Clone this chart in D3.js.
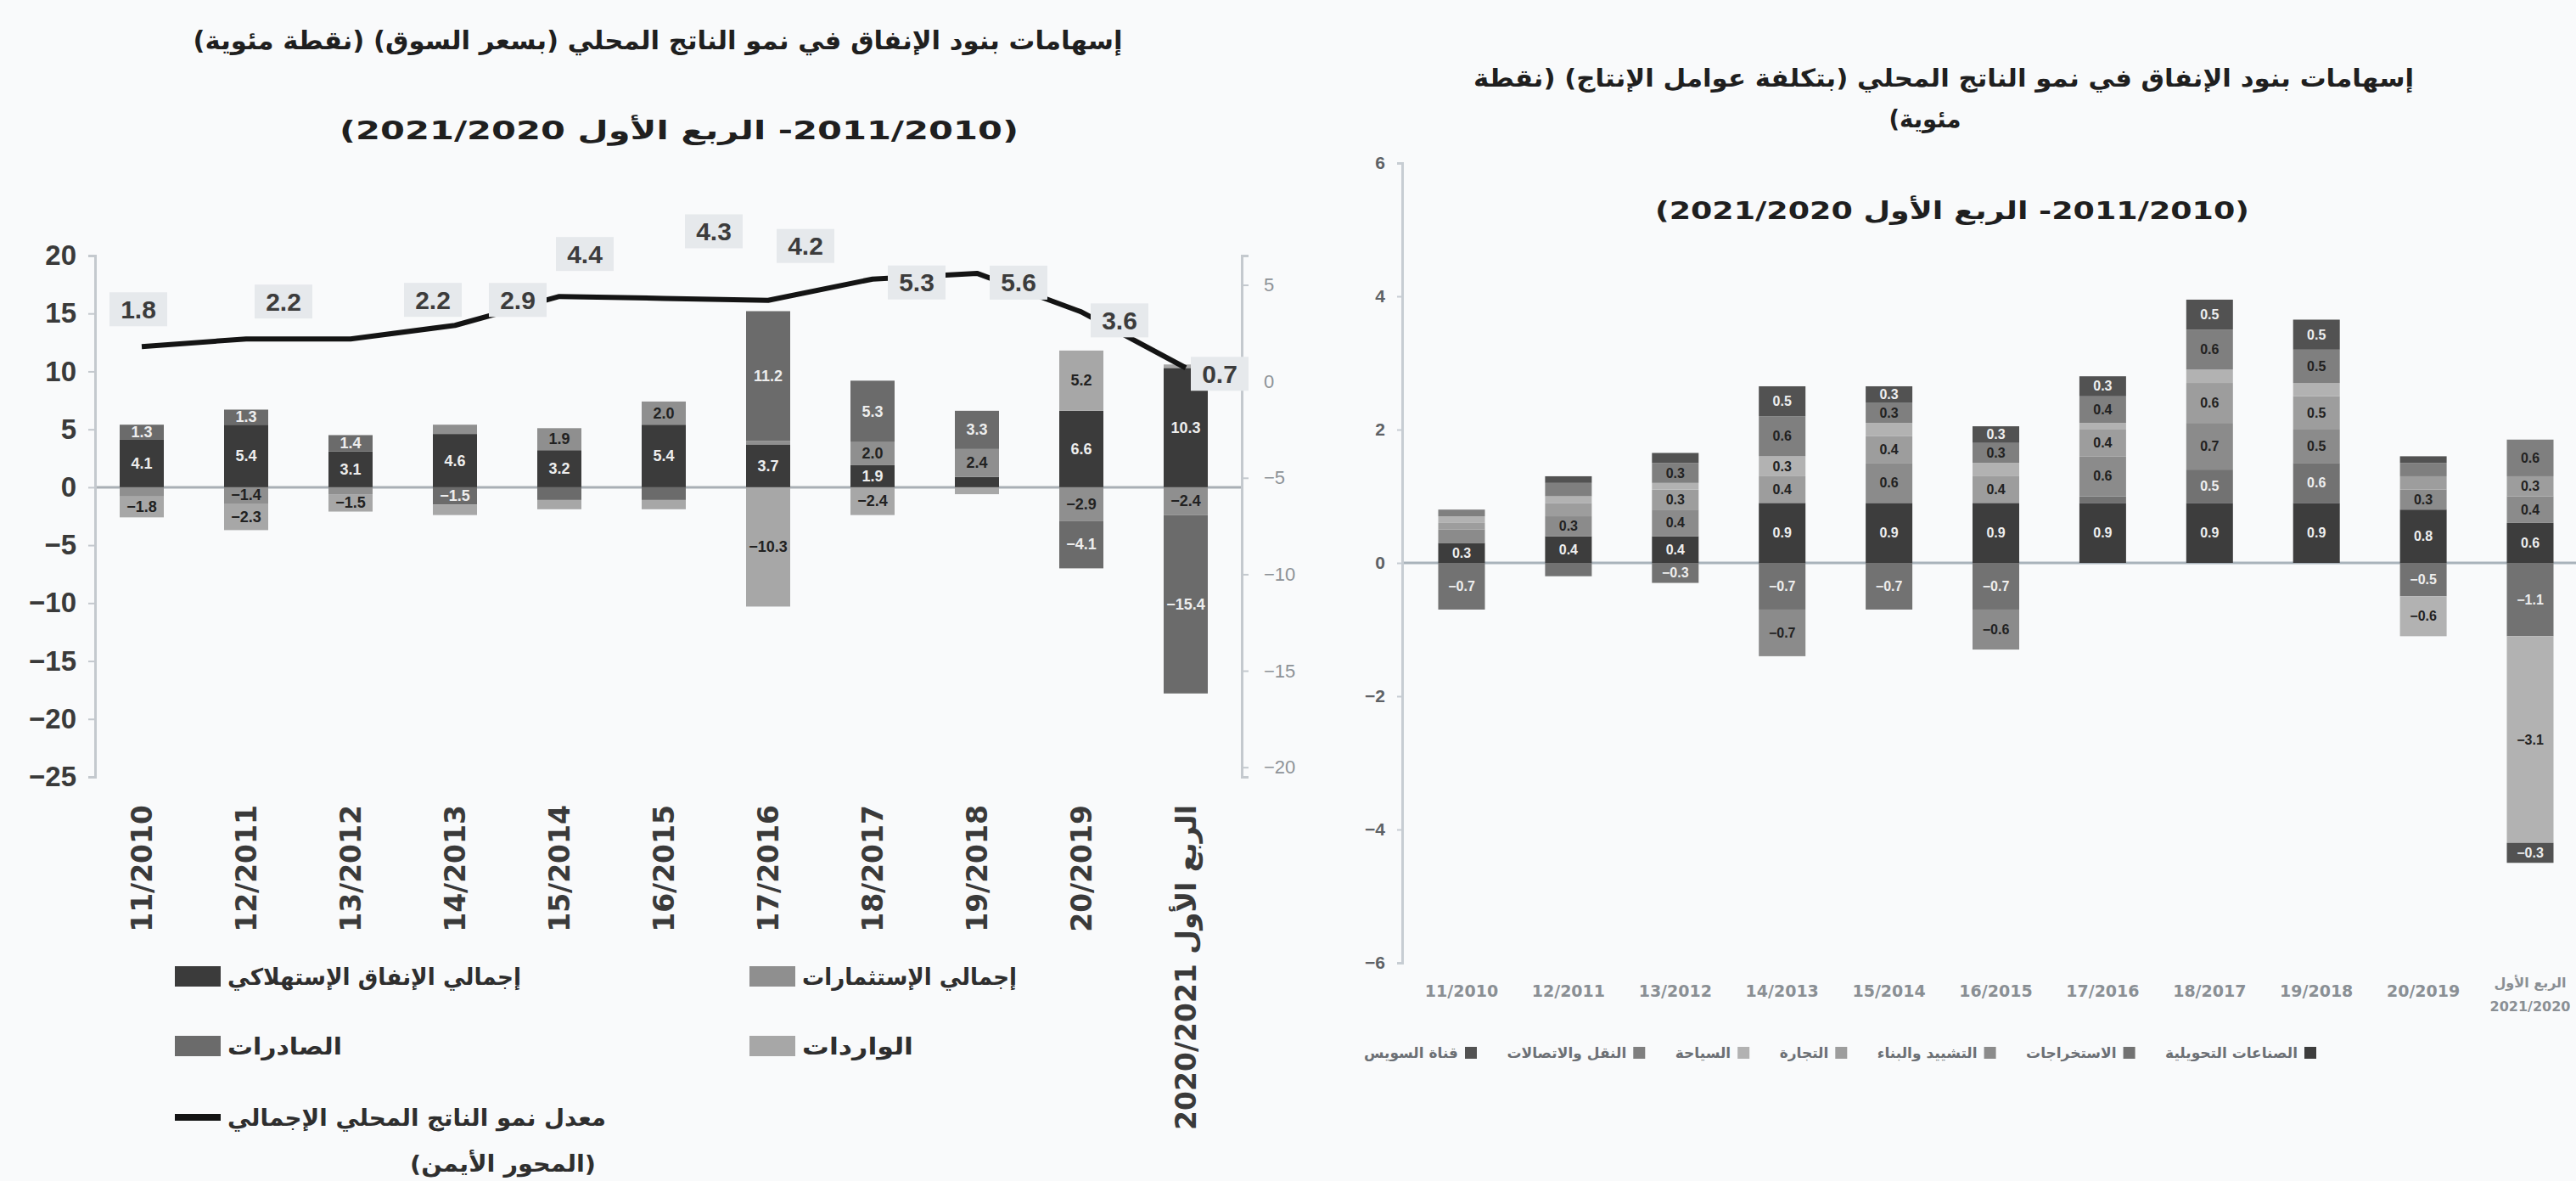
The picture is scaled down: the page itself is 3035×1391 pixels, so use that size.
<!DOCTYPE html>
<html>
<head>
<meta charset="utf-8">
<script src="https://cdn.jsdelivr.net/npm/d3@7"></script>
<style>
  html, body { margin: 0; padding: 0; background: #f9fafb; }
  svg { display: block; }
</style>
</head>
<body>
<svg id="chart" width="3035" height="1391"></svg>
<script>
// ---------- Left panel: expenditure contributions to GDP growth (market prices) ----------
const yearsL = ["11/2010", "12/2011", "13/2012", "14/2013", "15/2014", "16/2015",
                "17/2016", "18/2017", "19/2018", "20/2019", "2020/2021 الربع الأول"];
const consumption = [4.1, 5.4, 3.1, 4.6, 3.2, 5.4, 3.7, 1.9, 0.9, 6.6, 10.3];
const investment  = [-0.8, -1.4, -0.6, 0.8, 1.9, 2.0, 0.3, 2.0, 2.4, -2.9, -2.4];
const exportsC    = [1.3, 1.3, 1.4, -1.5, -1.1, -1.1, 11.2, 5.3, 3.3, -4.1, -15.4];
const importsC    = [-1.8, -2.3, -1.5, -0.9, -0.8, -0.8, -10.3, -2.4, -0.6, 5.2, 0.3];
const gdpGrowth   = [1.8, 2.2, 2.2, 2.9, 4.4, 4.3, 4.2, 5.3, 5.6, 3.6, 0.7];
const leftTicks   = [20, 15, 10, 5, 0, -5, -10, -15, -20, -25];
const growthTicks = [5, 0, -5, -10, -15, -20];
const seriesNamesL = ["إجمالي الإنفاق الإستهلاكي", "إجمالي الإستثمارات", "الصادرات", "الواردات"];
const growthName = ["معدل نمو الناتج المحلي الإجمالي", "(المحور الأيمن)"];

// ---------- Right panel: sector contributions (factor cost) ----------
const yearsR = ["11/2010", "12/2011", "13/2012", "14/2013", "15/2014", "16/2015",
                "17/2016", "18/2017", "19/2018", "20/2019", "الربع الأول\n2021/2020"];
const sectorNames = ["الصناعات التحويلية", "الاستخراجات", "التشييد والبناء", "التجارة",
                     "السياحة", "النقل والاتصالات", "قناة السويس"];
const manufacturing = [0.3, 0.4, 0.4, 0.9, 0.9, 0.9, 0.9, 0.9, 0.9, 0.8, 0.6];
const extraction    = [-0.7, -0.2, -0.3, -0.7, -0.7, -0.7, 0.1, 0.5, 0.6, -0.5, -1.1];
const construction  = [0.2, 0.3, 0.4, -0.7, 0.6, -0.6, 0.6, 0.7, 0.5, 0.3, 0.4];
const trade         = [0.1, 0.2, 0.3, 0.4, 0.4, 0.4, 0.4, 0.6, 0.5, 0.2, 0.3];
const tourism       = [0.1, 0.1, 0.1, 0.3, 0.2, 0.2, 0.1, 0.2, 0.2, -0.6, -3.1];
const transport     = [0.1, 0.2, 0.3, 0.6, 0.3, 0.3, 0.4, 0.6, 0.5, 0.2, 0.55];
const suezCanal     = [0.0, 0.1, 0.15, 0.45, 0.25, 0.25, 0.3, 0.45, 0.45, 0.1, -0.3];
const sectorTicks   = [6, 4, 2, 0, -2, -4, -6];

const titleL = ["إسهامات بنود الإنفاق في نمو الناتج المحلي (بسعر السوق) (نقطة مئوية)",
                "(2011/2010- الربع الأول 2021/2020)"];
const titleR = ["إسهامات بنود الإنفاق في نمو الناتج المحلي (بتكلفة عوامل الإنتاج) (نقطة",
                "مئوية)",
                "(2011/2010- الربع الأول 2021/2020)"];

// ---------- drawing ----------
const W = 3035, H = 1391;
const AR = "'DejaVu Sans', sans-serif";
const NUM = "'Liberation Sans', Arial, sans-serif";
const fmt = d3.format(".1f");

const svg = d3.select("#chart");
svg.append("rect").attr("width", W).attr("height", H).attr("fill", "#f9fafb");

function rtlText(g, str, cx, cy, size, len, opts = {}) {
  const t = g.append("text")
    .attr("x", cx).attr("y", cy)
    .attr("text-anchor", "middle")
    .attr("dominant-baseline", "central")
    .attr("direction", "rtl")
    .style("direction", "rtl")
    .attr("font-family", AR)
    .attr("font-weight", opts.weight || "bold")
    .attr("font-size", size)
    .attr("fill", opts.fill || "#1f1f1f")
    .text(str);
  if (len) t.attr("textLength", len).attr("lengthAdjust", "spacingAndGlyphs");
  return t;
}

// ===== Left panel =====
const gL = svg.append("g");
rtlText(gL, titleL[0], 775, 47, 30, 1095);
rtlText(gL, titleL[1], 800, 153, 30, 800);

const xL = d3.scalePoint().domain(yearsL).range([167, 1397]);
const yL = d3.scaleLinear().domain([-25, 20]).range([915, 301]);
const yG = d3.scaleLinear().domain([-20.5, 6.52]).range([915, 301]);
const barWL = 52;

// zero line
gL.append("line").attr("x1", 112).attr("x2", 1463)
  .attr("y1", yL(0)).attr("y2", yL(0))
  .attr("stroke", "#a9afb5").attr("stroke-width", 3);

// left axis
const axL = gL.append("g").attr("transform", "translate(112,0)")
  .call(d3.axisLeft(yL).tickValues(leftTicks).tickSize(8).tickPadding(14).tickFormat(d3.format("d")));
axL.select(".domain").attr("stroke", "#c4c9ce").attr("stroke-width", 3);
axL.selectAll(".tick line").attr("stroke", "#c4c9ce").attr("stroke-width", 2);
axL.selectAll(".tick text").attr("font-family", NUM).attr("font-weight", "bold")
  .attr("font-size", 33).attr("fill", "#3a3a3a");

// right axis (growth rate)
const axR = gL.append("g").attr("transform", "translate(1463,0)")
  .call(d3.axisRight(yG).tickValues(growthTicks).tickSize(8).tickPadding(18).tickFormat(d3.format("d")));
axR.select(".domain").attr("stroke", "#c4c9ce").attr("stroke-width", 3);
axR.selectAll(".tick line").attr("stroke", "#c4c9ce").attr("stroke-width", 2);
axR.selectAll(".tick text").attr("font-family", NUM).attr("font-size", 22).attr("fill", "#8d9297");

// stacked bars
const keysL = ["C", "I", "X", "M"];
const colorsL = { C: "#3b3b3b", I: "#8f8f8f", X: "#6b6b6b", M: "#a7a7a7" };
const rowsL = yearsL.map((y, i) => ({ year: y, C: consumption[i], I: investment[i], X: exportsC[i], M: importsC[i] }));
const stackL = d3.stack().keys(keysL).offset(d3.stackOffsetDiverging)(rowsL);

stackL.forEach(layer => {
  const key = layer.key;
  const g = gL.append("g");
  g.selectAll("rect").data(layer).join("rect")
    .attr("x", d => xL(d.data.year) - barWL / 2)
    .attr("width", barWL)
    .attr("y", d => yL(Math.max(d[0], d[1])))
    .attr("height", d => Math.abs(yL(d[0]) - yL(d[1])))
    .attr("fill", colorsL[key]);
  g.selectAll("text").data(layer.filter(d => Math.abs(yL(d[0]) - yL(d[1])) >= 16)).join("text")
    .attr("x", d => xL(d.data.year))
    .attr("y", d => (yL(d[0]) + yL(d[1])) / 2)
    .attr("text-anchor", "middle").attr("dominant-baseline", "central")
    .attr("font-family", NUM).attr("font-weight", "bold").attr("font-size", 18)
    .attr("fill", (key === "C" || key === "X") ? "#ededed" : "#222")
    .text(d => fmt(d.data[key]));
});

// growth line
const line = d3.line().x((d, i) => xL(yearsL[i])).y(d => yG(d));
gL.append("path").datum(gdpGrowth).attr("d", line)
  .attr("fill", "none").attr("stroke", "#141414").attr("stroke-width", 6)
  .attr("stroke-linejoin", "round");

// growth labels, nudged off the line
const labelNudge = [[-4, -44], [44, -44], [97, -46], [74, -30], [30, -50], [59, -79],
                    [44, -64], [52, 4], [49, 11], [45, 10], [40, 7]];
const gLab = gL.append("g");
gdpGrowth.forEach((v, i) => {
  const cx = xL(yearsL[i]) + labelNudge[i][0];
  const cy = yG(v) + labelNudge[i][1];
  gLab.append("rect").attr("x", cx - 34).attr("y", cy - 20).attr("width", 68).attr("height", 40)
    .attr("fill", "#e6e9ec");
  gLab.append("text").attr("x", cx).attr("y", cy)
    .attr("text-anchor", "middle").attr("dominant-baseline", "central")
    .attr("font-family", NUM).attr("font-weight", "bold").attr("font-size", 30)
    .attr("fill", "#3c3c3c").text(fmt(v));
});

// rotated category labels
gL.selectAll(".xlab").data(yearsL).join("text").attr("class", "xlab")
  .attr("transform", d => `translate(${xL(d)},948) rotate(-90)`)
  .attr("text-anchor", "end").attr("dominant-baseline", "central")
  .attr("font-family", AR).attr("font-weight", "bold").attr("font-size", 33)
  .attr("fill", "#3a3a3a").text(d => d);

// legend
const legL = gL.append("g");
const legendItems = [
  { key: "C", col: 0, row: 1150, len: 346 },
  { key: "I", col: 1, row: 1150, len: 253 },
  { key: "X", col: 0, row: 1232, len: 135 },
  { key: "M", col: 1, row: 1232, len: 131 }
];
legendItems.forEach((it, i) => {
  const sx = it.col === 0 ? 206 : 883;
  legL.append("rect").attr("x", sx).attr("y", it.row - 12).attr("width", 54).attr("height", 24)
    .attr("fill", colorsL[it.key]);
  rtlText(legL, seriesNamesL[i], sx + 62 + it.len / 2, it.row, 27, it.len, { fill: "#2e2e2e" });
});
legL.append("line").attr("x1", 206).attr("x2", 260).attr("y1", 1316).attr("y2", 1316)
  .attr("stroke", "#141414").attr("stroke-width", 8);
rtlText(legL, growthName[0], 268 + 446 / 2, 1316, 27, 446, { fill: "#2e2e2e" });
rtlText(legL, growthName[1], 483 + 219 / 2, 1370, 27, 219, { fill: "#2e2e2e" });

// ===== Right panel =====
const gR = svg.append("g");
rtlText(gR, titleR[0], 2290, 92, 29, 1108);
rtlText(gR, titleR[1], 2268, 140, 29, 85);
rtlText(gR, titleR[2], 2300, 248, 29, 700);

const xR = d3.scalePoint().domain(yearsR).range([1722, 2981]);
const yS = d3.scaleLinear().domain([-6, 6]).range([1134, 192]);
const barWR = 55;

gR.append("line").attr("x1", 1652).attr("x2", W)
  .attr("y1", yS(0)).attr("y2", yS(0))
  .attr("stroke", "#a9b3bb").attr("stroke-width", 3);

const axS = gR.append("g").attr("transform", "translate(1652,0)")
  .call(d3.axisLeft(yS).tickValues(sectorTicks).tickSize(6).tickPadding(14).tickFormat(d3.format("d")));
axS.select(".domain").attr("stroke", "#c7cdd3").attr("stroke-width", 3);
axS.selectAll(".tick line").attr("stroke", "#c7cdd3").attr("stroke-width", 2);
axS.selectAll(".tick text").attr("font-family", NUM).attr("font-weight", "bold")
  .attr("font-size", 21).attr("fill", "#5e6266");

const sectorSeries = [manufacturing, extraction, construction, trade, tourism, transport, suezCanal];
const sectorColors = ["#3d3d3d", "#727272", "#8b8b8b", "#9d9d9d", "#b2b2b2", "#7f7f7f", "#525252"];
const keysR = sectorNames;
const rowsR = yearsR.map((y, i) => {
  const r = { year: y };
  keysR.forEach((k, j) => { r[k] = sectorSeries[j][i]; });
  return r;
});
const stackR = d3.stack().keys(keysR).offset(d3.stackOffsetDiverging)(rowsR);

stackR.forEach((layer, j) => {
  const key = layer.key;
  const g = gR.append("g");
  g.selectAll("rect").data(layer).join("rect")
    .attr("x", d => xR(d.data.year) - barWR / 2)
    .attr("width", barWR)
    .attr("y", d => yS(Math.max(d[0], d[1])))
    .attr("height", d => Math.abs(yS(d[0]) - yS(d[1])))
    .attr("fill", sectorColors[j]);
  g.selectAll("text").data(layer.filter(d => Math.abs(yS(d[0]) - yS(d[1])) >= 18)).join("text")
    .attr("x", d => xR(d.data.year))
    .attr("y", d => (yS(d[0]) + yS(d[1])) / 2)
    .attr("text-anchor", "middle").attr("dominant-baseline", "central")
    .attr("font-family", NUM).attr("font-weight", "bold").attr("font-size", 16)
    .attr("fill", (j === 0 || j === 6 || j === 1) ? "#eeeeee" : "#222")
    .text(d => fmt(d.data[key]));
});

// category labels (a two-line label is kept inside the right edge)
gR.selectAll(".xlabR").data(yearsR).join("text").attr("class", "xlabR")
  .attr("text-anchor", "middle")
  .attr("font-family", AR).attr("font-weight", "bold")
  .attr("fill", "#8a8f94")
  .each(function (d) {
    const parts = d.split("\n");
    const t = d3.select(this).attr("font-size", parts.length > 1 ? 16 : 19);
    parts.forEach((p, k) => {
      t.append("tspan").attr("x", parts.length > 1 ? Math.min(xR(d), W - 50) : xR(d))
        .attr("y", parts.length > 1 ? 1157 + k * 28 : 1167)
        .attr("dominant-baseline", "central").text(p);
    });
  });

// legend (right to left)
const legR = gR.append("g");
const legRight = 2729, legLeft = 1607, legY = 1240, sw = 14, swGap = 8;
const items = sectorNames.map((n, j) => {
  const t = legR.append("text").attr("y", legY)
    .attr("text-anchor", "middle").attr("dominant-baseline", "central")
    .attr("direction", "rtl").style("direction", "rtl")
    .attr("font-family", AR).attr("font-weight", "bold").attr("font-size", 17)
    .attr("fill", "#6c7075").text(n);
  return { t, w: t.node().getComputedTextLength(), j };
});
const totalW = d3.sum(items, d => d.w + sw + swGap);
const gap = (legRight - legLeft - totalW) / (items.length - 1);
let cursor = legRight;
items.forEach(it => {
  legR.append("rect").attr("x", cursor - sw).attr("y", legY - sw / 2)
    .attr("width", sw).attr("height", sw).attr("fill", sectorColors[it.j]);
  cursor -= sw + swGap;
  it.t.attr("x", cursor - it.w / 2);
  cursor -= it.w + gap;
});
</script>
</body>
</html>
